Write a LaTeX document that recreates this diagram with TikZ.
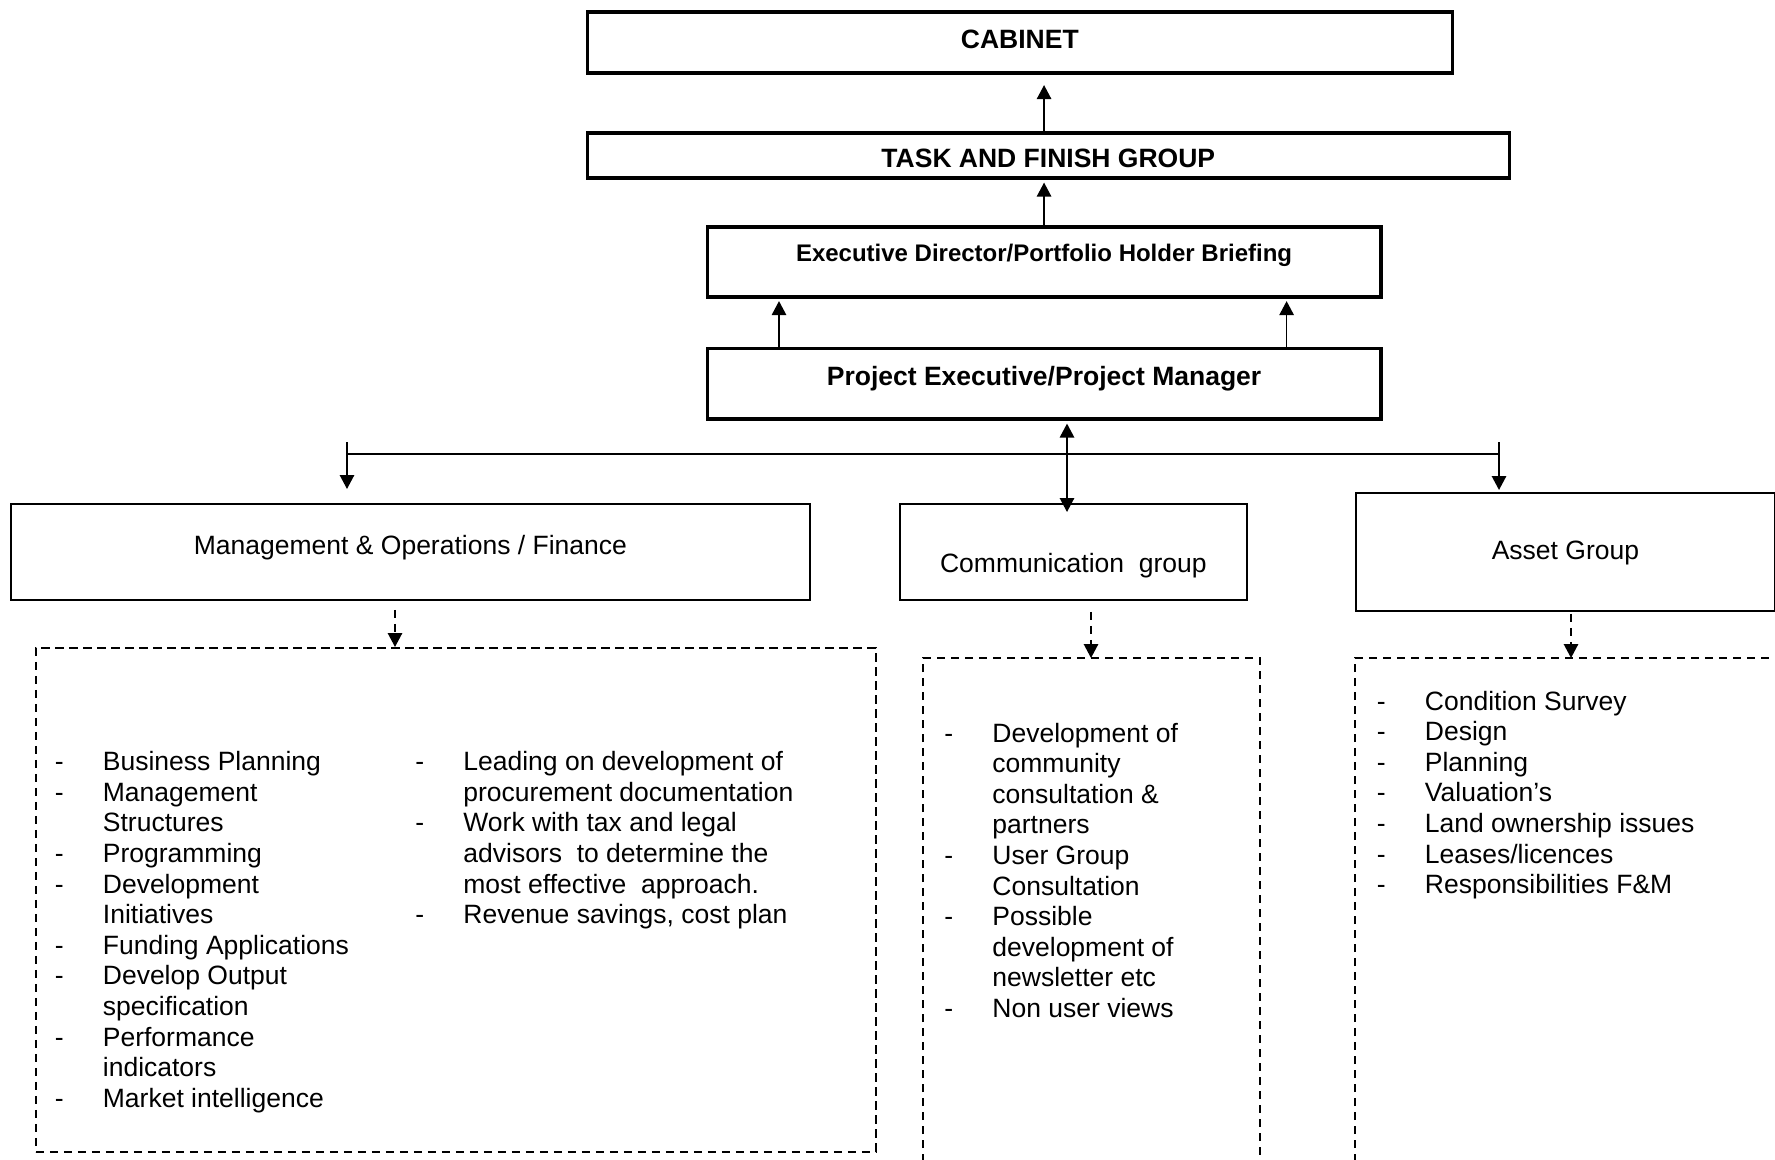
\documentclass[tikz,border=0pt]{standalone}
\usepackage{fontspec}
\setmainfont{Liberation Sans}
\usepackage{tikz}
\usetikzlibrary{arrows.meta}
\usetikzlibrary{calc}

\tikzset{
	topbox/.style={draw,rectangle,line width=1.8pt,inner sep=0pt,anchor=north west,font=\fontsize{13.25}{15.3}\selectfont\bfseries},
	groupbox/.style={draw,rectangle,line width=0.9pt,inner sep=0pt,anchor=north west,font=\fontsize{13.25}{15.3}\selectfont},
	dashbox/.style={line width=0.85pt,dash pattern=on 4.2pt off 2.8pt},
	flow/.style={line width=0.85pt,-{Triangle[length=7pt,width=7.2pt]}},
	bothflow/.style={line width=0.85pt,{Triangle[length=7pt,width=7.2pt]}-{Triangle[length=7pt,width=7.2pt]}},
	dflow/.style={flow,dash pattern=on 4.2pt off 2.8pt},
	listtext/.style={inner sep=0pt,anchor=base west,font=\fontsize{13.25}{15.3}\selectfont}
}

\begin{document}
\begin{tikzpicture}[x=0.5pt,y=-0.5pt]
	\useasboundingbox (0,0) rectangle (1775,1160);
	% upper chain
	\node[topbox,minimum width=432.5pt,text height=18pt,text depth=12.5pt] (cab) at (585.5,10.5) {CABINET};
	\node[topbox,minimum width=461pt,text height=17.25pt,text depth=5.25pt] (tfg) at (585.5,131) {TASK AND FINISH GROUP};
	\node[topbox,minimum width=336.75pt,text height=17.3pt,text depth=17.95pt,font=\fontsize{12}{14}\selectfont\bfseries] (edb) at (705.5,225) {Executive Director/Portfolio Holder Briefing};
	\node[topbox,minimum width=336.75pt,text height=18.75pt,text depth=16.5pt] (pem) at (705.5,346.5) {Project Executive/Project Manager};
	\draw[flow,shorten >=5pt] (edb.north |- tfg.north) -- (edb.north |- cab.south);
	\draw[flow,shorten >=1.5pt] (edb.north) -- (edb.north |- tfg.south);
	\draw[flow,shorten >=1pt] ([xshift=36.75pt]pem.north west) -- ([xshift=36.75pt]edb.south west);
	\draw[flow,shorten >=1pt] ([xshift=-48pt]pem.north east) -- ([xshift=-48pt]edb.south east);
	% groups
	\node[groupbox,minimum width=399.5pt,text height=25.5pt,text depth=22.5pt] (mgt) at (10,503) {Management \& Operations / Finance};
	\node[groupbox,minimum width=173.5pt,text height=34.5pt,text depth=13.5pt] (com) at (899,503) {Communication\ \ group};
	\node[groupbox,minimum width=209.5pt,text height=33.5pt,text depth=25.5pt] (ast) at (1355,492) {Asset Group};
	\coordinate (busl) at (347,442);
	\coordinate (busr) at (1499,442);
	\coordinate (hub) at (1067,454);
	\draw[line width=0.85pt] (busl |- hub) -- (busr |- hub);
	\draw[flow,shorten >=7pt] (busl) -- (busl |- mgt.north);
	\draw[flow,shorten >=1pt] (busr) -- (busr |- ast.north);
	\draw[bothflow,shorten <=1.5pt,shorten >=-4.5pt] (hub |- pem.south) -- (hub |- com.north);
	% dashed boxes
	\node[dashbox,draw,inner sep=0pt,anchor=north west,minimum width=420pt,minimum height=252pt] (mgtbox) at (35,647) {};
	\draw[dashbox] (923,1162) |- (1260,658) -- (1260,1162);
	\draw[dashbox] (1355,1162) |- (1776,658);
	\coordinate (mgtin) at (395,647);
	\coordinate (comin) at (1091,658);
	\coordinate (astin) at (1571,658);
	\draw[dflow,shorten <=4.5pt] (mgt.south -| mgtin) -- (mgtin);
	\draw[dflow,shorten <=5.5pt] (com.south -| comin) -- (comin);
	\draw[dflow,shorten <=1pt] (ast.south -| astin) -- (astin);
	% lists
	\node[listtext] (mgtla) at (54.5,770.7) {\begin{tabular}[t]{@{}p{24pt}@{}l@{}}
		- & Business Planning\\
		- & Management\\
		  & Structures\\
		- & Programming\\
		- & Development\\
		  & Initiatives\\
		- & Funding Applications\\
		- & Develop Output\\
		  & specification\\
		- & Performance\\
		  & indicators\\
		- & Market intelligence
	\end{tabular}};
	\node[listtext] (mgtlb) at (415,770.7) {\begin{tabular}[t]{@{}p{24pt}@{}l@{}}
		- & Leading on development of\\
		  & procurement documentation\\
		- & Work with tax and legal\\
		  & advisors\ \ to determine the\\
		  & most effective\ \ approach.\\
		- & Revenue savings, cost plan
	\end{tabular}};
	\node[listtext] (coml) at (944,742) {\begin{tabular}[t]{@{}p{24pt}@{}l@{}}
		- & Development of\\
		  & community\\
		  & consultation \&\\
		  & partners\\
		- & User Group\\
		  & Consultation\\
		- & Possible\\
		  & development of\\
		  & newsletter etc\\
		- & Non user views
	\end{tabular}};
	\node[listtext] (astl) at (1376.5,710) {\begin{tabular}[t]{@{}p{24pt}@{}l@{}}
		- & Condition Survey\\
		- & Design\\
		- & Planning\\
		- & Valuation’s\\
		- & Land ownership issues\\
		- & Leases/licences\\
		- & Responsibilities F\&M
	\end{tabular}};
\end{tikzpicture}
\end{document}
